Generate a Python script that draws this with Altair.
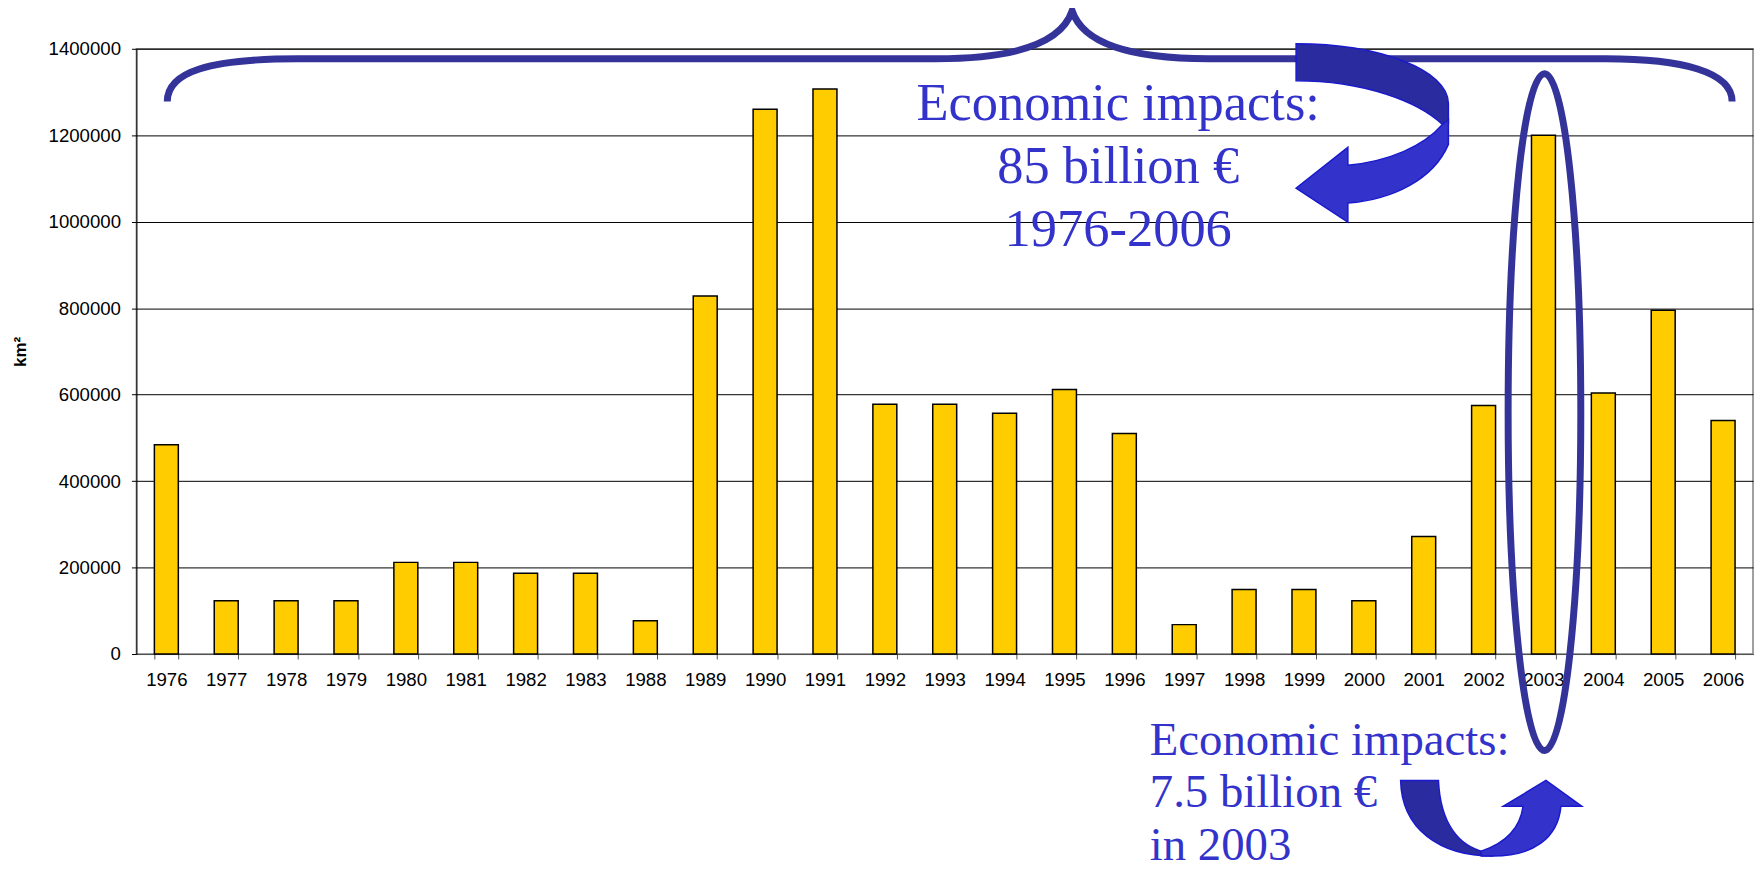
import altair as alt
import pandas as pd

# ---------------- data ----------------
years = ["1976", "1977", "1978", "1979", "1980", "1981", "1982", "1983",
         "1988", "1989", "1990", "1991", "1992", "1993", "1994", "1995",
         "1996", "1997", "1998", "1999", "2000", "2001", "2002", "2003",
         "2004", "2005", "2006"]
area_km2 = [484000, 123000, 123000, 123000, 212000, 212000, 187000, 187000,
            77000, 828000, 1260000, 1307000, 578000, 578000, 557000, 612000,
            510000, 68000, 149000, 149000, 123000, 272000, 575000, 1200000,
            604000, 795000, 540000]
y_ticks = [0, 200000, 400000, 600000, 800000, 1000000, 1200000, 1400000]
y_title = "km²"
note_total = ["Economic impacts:", "85 billion €", "1976-2006"]
note_2003 = ["Economic impacts:", "7.5 billion €", "in 2003"]

df = pd.DataFrame({"year": years, "area": area_km2})
one = pd.DataFrame({"k": [0]})

# ---------------- layout ----------------
W, H = 1624, 608
OX, OY = 137, 47          # page position of the plot origin
SANS = "Liberation Sans"
SERIF = "Liberation Serif"

bars = alt.Chart(df).mark_bar(color="#FFCC00", stroke="#000000", strokeWidth=1.5).encode(
    x=alt.X("year:N", sort=years,
            scale=alt.Scale(paddingInner=0.6, paddingOuter=0.3),
            axis=alt.Axis(title=None, labelAngle=0, tickBand="extent", grid=False,
                          domainColor="#555555", tickColor="#555555", tickSize=5,
                          labelPadding=12, labelFont=SANS, labelFontSize=18.7,
                          labelColor="#000000")),
    y=alt.Y("area:Q", scale=alt.Scale(domain=[0, 1400000], nice=False),
            axis=alt.Axis(values=y_ticks, format="d", title=y_title,
                          grid=True, gridColor="#000000", gridWidth=1,
                          domainColor="#000000", tickColor="#000000", tickSize=5,
                          labelPadding=11, labelFont=SANS, labelFontSize=18.7,
                          labelColor="#000000",
                          titleFont=SANS, titleFontSize=17, titleFontWeight="bold",
                          titleColor="#000000", titleAngle=270, titleAlign="center",
                          titleBaseline="middle", titleX=21 - OX, titleY=H / 2)),
)


def shape_layer(path, **mark):
    # custom symbol path drawn in page pixel coordinates (anchor at page origin)
    return alt.Chart(one).mark_point(shape=path, size=4, opacity=1, **mark).encode(
        x=alt.value(-OX), y=alt.value(-OY))


BRACE = ("M168,100 C168,70 210,57 300,57 L940,57 C1010,57 1065,45 1077,9 "
         "C1089,45 1144,57 1214,57 L1613,57 C1690,57 1740,70 1740,100")

cx, cy, rx, ry, k = 1551.5, 412, 36.5, 340, 0.5523
ELLIPSE = (f"M{cx},{cy-ry} C{cx+k*rx},{cy-ry} {cx+rx},{cy-k*ry} {cx+rx},{cy} "
           f"C{cx+rx},{cy+k*ry} {cx+k*rx},{cy+ry} {cx},{cy+ry} "
           f"C{cx-k*rx},{cy+ry} {cx-rx},{cy+k*ry} {cx-rx},{cy} "
           f"C{cx-rx},{cy-k*ry} {cx-k*rx},{cy-ry} {cx},{cy-ry} Z")

DARK_TOP = "M1302,42 C1385,42 1455,68 1455,102 L1455,122 L1449,123 C1425,100 1370,79 1302,79 Z"
LIGHT_TOP = ("M1449,123 L1455,118 L1455,143 C1440,178 1400,198 1354,202 L1354,221 "
             "L1302,187 L1354,146 L1354,164 C1395,160 1430,145 1449,123 Z")
DARK_BOT = "M1407,782 L1445,782 C1447,825 1465,848 1492,854 L1500,858 C1445,858 1408,830 1407,782 Z"
LIGHT_BOT = ("M1488,853 C1512,845 1527,830 1530,808 L1510,808 L1553,782 L1589,808 "
             "L1568,808 C1565,840 1540,858 1500,858 L1488,858 Z")

line_style = dict(filled=False, stroke="#333399", strokeWidth=7, strokeCap="butt")
brace = shape_layer(BRACE, **line_style)
ellipse = shape_layer(ELLIPSE, **line_style)

dark = dict(filled=True, fill="#2B2BA0", stroke="#1A1ACC", strokeWidth=1.5)
light = dict(filled=True, fill="#3333CC", stroke="#1A1ACC", strokeWidth=1.5)
arrow_top_d = shape_layer(DARK_TOP, **dark)
arrow_top_l = shape_layer(LIGHT_TOP, **light)
arrow_bot_d = shape_layer(DARK_BOT, **dark)
arrow_bot_l = shape_layer(LIGHT_BOT, **light)

text_total = alt.Chart(one).mark_text(
    text=note_total, font=SERIF, fontSize=52.7, color="#3333CC",
    align="center", baseline="alphabetic", lineHeight=63.3
).encode(x=alt.value(1123.3 - OX), y=alt.value(118.3 - OY))

text_2003 = alt.Chart(one).mark_text(
    text=note_2003, font=SERIF, fontSize=47, color="#3333CC",
    align="left", baseline="alphabetic", lineHeight=53
).encode(x=alt.value(1155 - OX), y=alt.value(756 - OY))

chart = alt.layer(
    bars, brace, ellipse, arrow_top_d, arrow_top_l, arrow_bot_d, arrow_bot_l,
    text_total, text_2003
).properties(
    width=W, height=H,
    autosize=alt.AutoSizeParams(type="none"),
    padding={"left": OX - 8, "top": OY - 8, "right": 3, "bottom": 219},
    background="#FFFFFF",
).configure_view(stroke="#808080", strokeWidth=1.5)

chart.save("out.html", embed_options={"renderer": "svg", "actions": False})
